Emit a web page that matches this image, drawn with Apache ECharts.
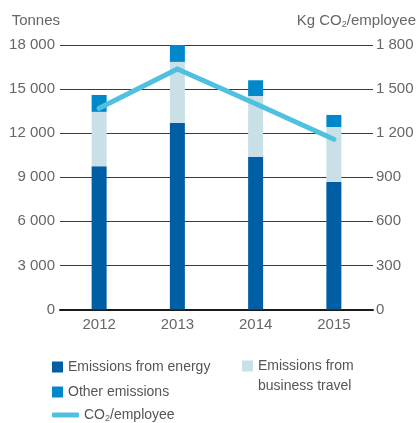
<!DOCTYPE html>
<html>
<head>
<meta charset="utf-8">
<script src="https://cdn.jsdelivr.net/npm/echarts@6/dist/echarts.min.js"></script>
<style>
  html, body { margin: 0; padding: 0; background: #fff; }
  #chart { width: 419px; height: 423px; }
</style>
</head>
<body>
<div id="chart"></div>
<script>
var years = ['2012', '2013', '2014', '2015'];
var energy = [9750, 12700, 10400, 8680];
var travel = [3700, 4150, 4130, 3740];
var other = [1150, 1200, 1070, 820];
var co2PerEmployee = [1369, 1637, 1400, 1158];

var font = 'Liberation Sans';
var grey = '#666';

function spaced(v) {
    return String(v).replace(/\B(?=(\d{3})+(?!\d))/g, ' ');
}

(function () {
    var chart = echarts.init(document.getElementById('chart'));

    var subRich = {
        sub: { fontSize: 9, padding: [7, 0, 0, 0], color: grey, fontFamily: font }
    };

    var option = {
        backgroundColor: '#fff',
        animation: false,

        grid: {
            left: 60,
            right: 46,
            top: 45,
            height: 264.5
        },

        legend: [
            {
                data: ['Emissions from energy', 'Other emissions'],
                orient: 'vertical',
                left: 52,
                top: 359,
                padding: 0,
                itemWidth: 11,
                itemHeight: 11,
                itemGap: 9,
                icon: 'rect',
                textStyle: { fontSize: 14, color: '#555', fontFamily: font, lineHeight: 16 }
            },
            {
                data: ['Emissions from business travel'],
                left: 242,
                top: 356,
                padding: 0,
                itemWidth: 11,
                itemHeight: 31,
                // square sits at the top of a taller icon box so it lines up with the first text line
                icon: 'path://M0,0L11,0L11,11L0,11Z M0,31L0.01,31',
                formatter: function () { return 'Emissions from\nbusiness travel'; },
                textStyle: { fontSize: 14, color: '#555', fontFamily: font, lineHeight: 20 }
            },
            {
                data: ['CO2/employee'],
                left: 52,
                top: 408,
                padding: 0,
                itemWidth: 27,
                itemHeight: 5,
                icon: 'roundRect',
                formatter: function () { return 'CO{sub|2}/employee'; },
                textStyle: { fontSize: 14, color: '#555', fontFamily: font, rich: subRich }
            }
        ],

        xAxis: {
            type: 'category',
            data: years,
            axisLine: { lineStyle: { color: '#1a1a1a', width: 2 } },
            axisTick: { show: false },
            axisLabel: { color: grey, fontSize: 15, fontFamily: font, margin: 8 }
        },

        yAxis: [
            {
                type: 'value',
                min: 0,
                max: 18000,
                interval: 3000,
                name: 'Tonnes',
                nameLocation: 'end',
                nameGap: 24,
                nameTextStyle: { color: grey, fontSize: 15, fontFamily: font, align: 'right', verticalAlign: 'middle' },
                axisLine: { show: false },
                axisTick: { show: false },
                axisLabel: { color: grey, fontSize: 15, fontFamily: font, margin: 5, formatter: spaced },
                splitLine: { lineStyle: { color: '#3a3a3a', width: 1 } }
            },
            {
                type: 'value',
                min: 0,
                max: 1800,
                interval: 300,
                position: 'right',
                name: 'Kg CO{sub|2}/employee',
                nameLocation: 'end',
                nameGap: 24,
                nameTextStyle: {
                    color: grey, fontSize: 15, fontFamily: font,
                    align: 'right', verticalAlign: 'middle',
                    padding: [0, -43, 0, 0],
                    rich: { sub: { fontSize: 9, padding: [7, 0, 0, 0], color: grey, fontFamily: font } }
                },
                axisLine: { show: false },
                axisTick: { show: false },
                axisLabel: { color: grey, fontSize: 15, fontFamily: font, margin: 3, formatter: spaced },
                splitLine: { show: false }
            }
        ],

        series: [
            {
                name: 'Emissions from energy',
                type: 'bar',
                stack: 'total',
                barWidth: 15,
                itemStyle: { color: '#005ea4' },
                data: energy
            },
            {
                name: 'Emissions from business travel',
                type: 'bar',
                stack: 'total',
                barWidth: 15,
                itemStyle: { color: '#c9e0e7' },
                data: travel
            },
            {
                name: 'Other emissions',
                type: 'bar',
                stack: 'total',
                barWidth: 15,
                itemStyle: { color: '#0088cb' },
                data: other
            },
            {
                name: 'CO2/employee',
                type: 'line',
                yAxisIndex: 1,
                symbol: 'none',
                z: 5,
                itemStyle: { color: '#50c0e0' },
                lineStyle: { color: '#50c0e0', width: 5, cap: 'round', join: 'round' },
                data: co2PerEmployee
            }
        ]
    };

    chart.setOption(option);
})();
</script>
</body>
</html>
